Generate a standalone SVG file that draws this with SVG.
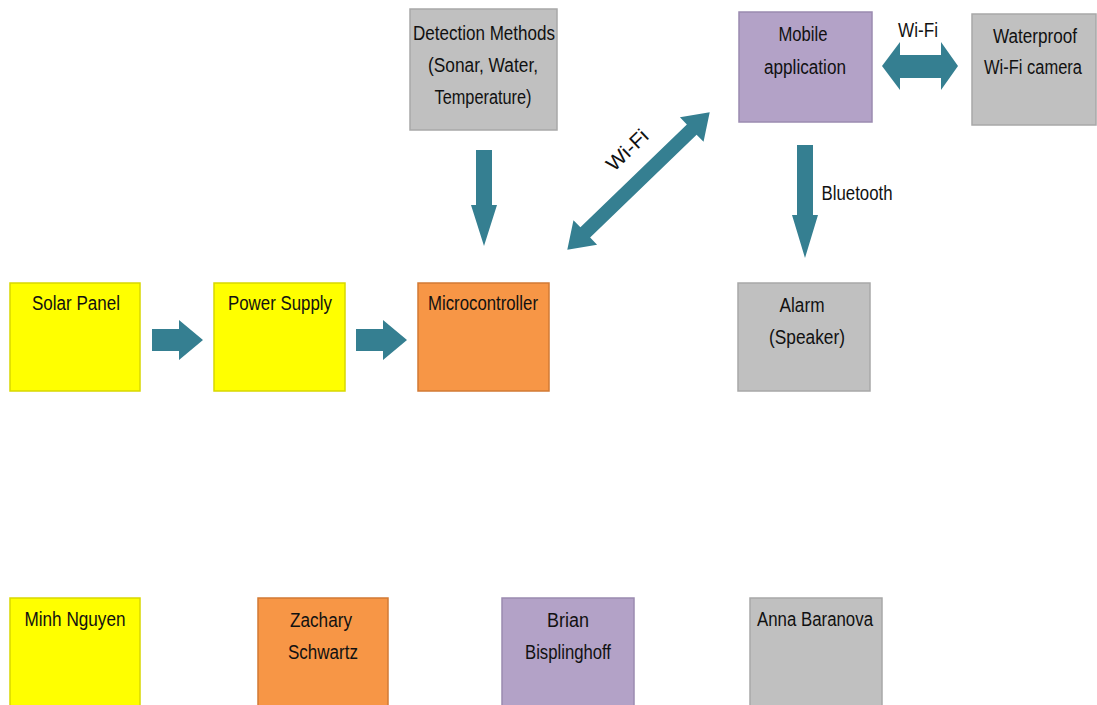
<svg xmlns="http://www.w3.org/2000/svg" width="1097" height="705" viewBox="0 0 1097 705">
<style>
.box{stroke-width:1.5}
.y{fill:#ffff00;stroke:#d8d800}
.o{fill:#f79646;stroke:#d27a35}
.p{fill:#b3a2c7;stroke:#9b8bb0}
.g{fill:#c0c0c0;stroke:#a8a8a8}
text{font-family:"Liberation Sans",Arial,sans-serif;font-size:20px;fill:#111111;text-anchor:middle}
.arr{fill:#357f91}
</style>
<rect width="1097" height="705" fill="#ffffff"/>
<g id="detection"><rect class="box g" x="410" y="9" width="147" height="121"/>
<text x="484" y="40" textLength="142" lengthAdjust="spacingAndGlyphs">Detection Methods</text>
<text x="483" y="72" textLength="110" lengthAdjust="spacingAndGlyphs">(Sonar, Water,</text>
<text x="483" y="104" textLength="97" lengthAdjust="spacingAndGlyphs">Temperature)</text></g>
<g id="mobile"><rect class="box p" x="739" y="12" width="133" height="110"/>
<text x="803" y="41" textLength="49" lengthAdjust="spacingAndGlyphs">Mobile</text>
<text x="805" y="74" textLength="82" lengthAdjust="spacingAndGlyphs">application</text></g>
<g id="camera"><rect class="box g" x="972" y="14" width="124" height="111"/>
<text x="1035" y="43" textLength="84" lengthAdjust="spacingAndGlyphs">Waterproof</text>
<text x="1033" y="74" font-size="19" textLength="98" lengthAdjust="spacingAndGlyphs">Wi-Fi camera</text></g>
<g id="alarm"><rect class="box g" x="738" y="283" width="132" height="108"/>
<text x="802" y="312" textLength="45" lengthAdjust="spacingAndGlyphs">Alarm</text>
<text x="807" y="344" textLength="76" lengthAdjust="spacingAndGlyphs">(Speaker)</text></g>
<g id="solar"><rect class="box y" x="10" y="283" width="130" height="108"/>
<text x="76" y="310" textLength="88" lengthAdjust="spacingAndGlyphs">Solar Panel</text></g>
<g id="power"><rect class="box y" x="214" y="283" width="131" height="108"/>
<text x="280" y="310" textLength="104" lengthAdjust="spacingAndGlyphs">Power Supply</text></g>
<g id="micro"><rect class="box o" x="418" y="283" width="131" height="108"/>
<text x="483" y="310" textLength="110" lengthAdjust="spacingAndGlyphs">Microcontroller</text></g>
<g id="minh"><rect class="box y" x="10" y="598" width="130" height="112"/>
<text x="75" y="626" textLength="101" lengthAdjust="spacingAndGlyphs">Minh Nguyen</text></g>
<g id="zachary"><rect class="box o" x="258" y="598" width="130" height="112"/>
<text x="321" y="627" textLength="62" lengthAdjust="spacingAndGlyphs">Zachary</text>
<text x="323" y="659" textLength="70" lengthAdjust="spacingAndGlyphs">Schwartz</text></g>
<g id="brian"><rect class="box p" x="502" y="598" width="132" height="112"/>
<text x="568" y="627" textLength="42" lengthAdjust="spacingAndGlyphs">Brian</text>
<text x="568" y="659" textLength="86" lengthAdjust="spacingAndGlyphs">Bisplinghoff</text></g>
<g id="anna"><rect class="box g" x="750" y="598" width="132" height="112"/>
<text x="815" y="626" textLength="116" lengthAdjust="spacingAndGlyphs">Anna Baranova</text></g>
<g id="connectors">
<polygon class="arr" points="152,329 179,329 179,320 203,340 179,360 179,351 152,351"/>
<polygon class="arr" points="356,329 383,329 383,320 407,340 383,360 383,351 356,351"/>
<polygon class="arr" points="476,150 492,150 492,205 497,205 484,246 471,205 476,205"/>
<polygon class="arr" points="797,145 813,145 813,215 818,215 805,258 792,215 797,215"/>
<polygon class="arr" points="882,66 900,42 900,55 941,55 941,42 958,66 941,90 941,78 900,78 900,90"/>
<polygon class="arr" transform="translate(638.5,181) rotate(-44)" points="-99,0 -74,-17 -74,-7 74,-7 74,-17 99,0 74,17 74,7 -74,7 -74,17"/>
<text x="918" y="37" textLength="40" lengthAdjust="spacingAndGlyphs">Wi-Fi</text>
<text x="857" y="200" textLength="71" lengthAdjust="spacingAndGlyphs">Bluetooth</text>
<text transform="translate(632,155) rotate(-44)" x="0" y="0" textLength="50" lengthAdjust="spacingAndGlyphs">Wi-Fi</text>
</g>
</svg>
